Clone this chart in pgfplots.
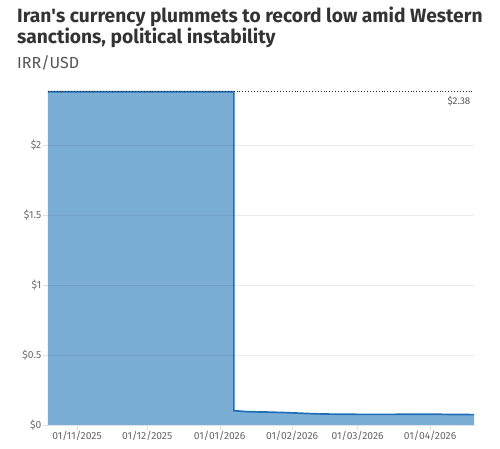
\documentclass[border=0pt]{standalone}
\usepackage{fontspec}
\setmainfont{Fira Sans}
\usepackage{pgfplots}
\pgfplotsset{compat=1.18}

\definecolor{areablue}{HTML}{7BAED5}
\definecolor{lineblue}{HTML}{1F6FB6}
\definecolor{titlegray}{HTML}{333333}
\definecolor{subgray}{HTML}{555555}
\definecolor{tickgray}{HTML}{666666}

\begin{document}
\begin{tikzpicture}
    \useasboundingbox (0,0) rectangle (500pt,448pt);
    \node[anchor=base west, inner sep=0, text=titlegray, font=\fontsize{19.2}{21}\selectfont\bfseries]
        at (17pt,425.7pt) {Iran\textquotesingle s currency plummets to record low amid Western};
    \node[anchor=base west, inner sep=0, text=titlegray, font=\fontsize{19.2}{21}\selectfont\bfseries]
        at (17pt,404.7pt) {sanctions, political instability};
    \node[anchor=base west, inner sep=0, text=subgray, font=\fontsize{16}{18}\selectfont]
        at (17pt,379.7pt) {IRR/USD};

    \begin{axis}[
        at={(48pt,23pt)}, anchor=south west,
        scale only axis,
        width=426pt, height=333.3pt,
        xmin=-12.4, xmax=169.8,
        ymin=0, ymax=2.38,
        axis x line*=bottom, axis y line*=left,
        axis line style={draw=none},
        axis on top,
        xtick={0,30,61,92,120,151},
        xticklabels={01/11/2025,01/12/2025,01/01/2026,01/02/2026,01/03/2026,01/04/2026},
        ytick={0,0.5,1,1.5,2},
        yticklabels={\$0,\$0.5,\$1,\$1.5,\$2},
        tick align=outside,
        major tick length=5pt,
        tick style={draw=black!12},
        ymajorgrids,
        grid style={draw=black, opacity=0.08},
        /pgf/number format/assume math mode=true,
        ticklabel style={font=\fontsize{10.3}{12}\selectfont, text=tickgray},
        yticklabel style={inner xsep=1.5pt},
        xticklabel style={inner ysep=1.2pt},
        clip=false,
    ]
        \addplot[fill=areablue, draw=none] coordinates {
            (-12.4,2.38) (67.1,2.38) (67.1,0.102) (73,0.095) (82,0.092)
            (90,0.088) (100,0.081) (107,0.078) (120,0.076) (135,0.076)
            (150,0.077) (169.8,0.074)
        } \closedcycle;
        \addplot[lineblue, line width=1.7pt] coordinates {
            (-12.4,2.38) (67.1,2.38) (67.1,0.102) (73,0.095) (82,0.092)
            (90,0.088) (100,0.081) (107,0.078) (120,0.076) (135,0.076)
            (150,0.077) (169.8,0.074)
        };
        \addplot[black!85, dotted, line width=0.9pt] coordinates {
            (-12.4,2.38) (169.6,2.38)
        };
        \node[anchor=east, inner sep=0, text=subgray, font=\fontsize{9.8}{11}\selectfont]
            at (axis cs:168.3,2.38) [yshift=-10pt] {\$2.38};
    \end{axis}
\end{tikzpicture}
\end{document}
